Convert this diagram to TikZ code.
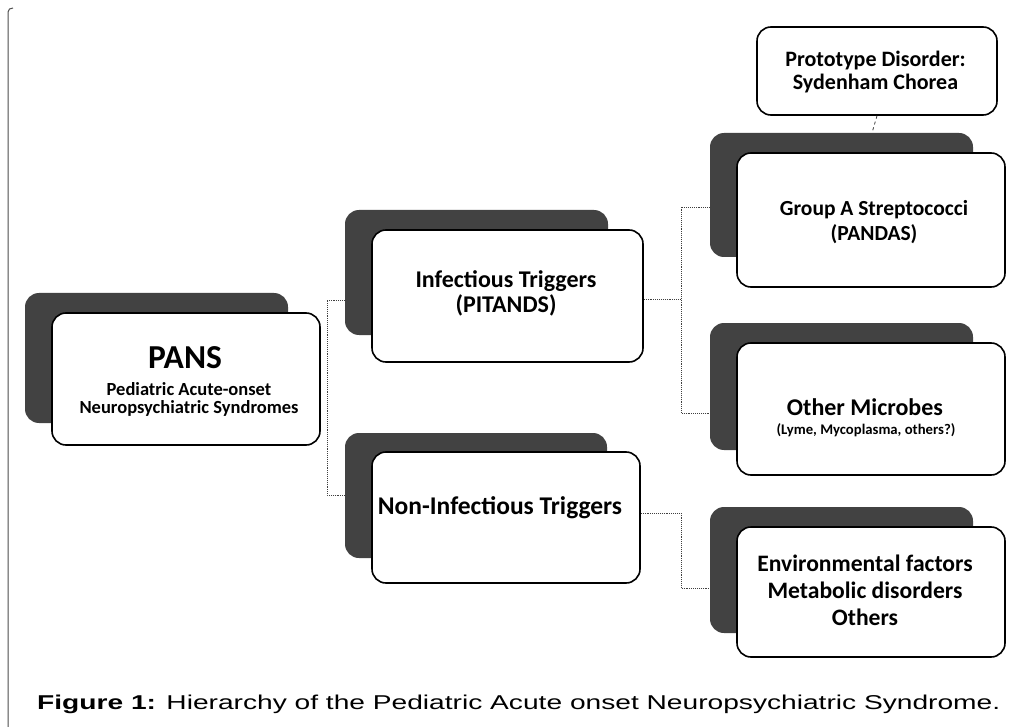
\documentclass[tikz,border=0pt]{standalone}
\usepackage{fontspec}
\setmainfont{Carlito}
\newfontfamily\capfont{Liberation Sans}
\definecolor{shadowc}{gray}{0.26}
\begin{document}
\begin{tikzpicture}[x=1pt,y=-1pt,
  shad/.style={fill=shadowc, rounded corners=14pt, inner sep=0pt},
  frontbox/.style={draw=black, line width=1.6pt, fill=white, rounded corners=14pt, inner sep=0pt},
  txt/.style={font=\bfseries\fontsize{21}{22}\selectfont, align=center, inner sep=0pt},
  conn/.style={densely dotted, line width=0.9pt, black!75}]
\useasboundingbox (0,0) rectangle (1017,727);
% frame line at the left
\draw[black!70, line width=1pt] (13,8) -- (9.5,9) -- (8,12) -- (8,727);
% PANS
\node[shad, minimum width=263pt, minimum height=130pt] (pansS) at (156.5,358) {};
\node[frontbox, minimum width=268pt, minimum height=132pt] (pans) at (186,379) {};
\node[txt, font=\bfseries\fontsize{33.5}{34}\selectfont] (pansT) at (185,358) {PANS};
\node[txt, font=\bfseries\fontsize{18.5}{18}\selectfont] (pansSub) at (189,399) {Pediatric Acute-onset\\Neuropsychiatric Syndromes};
% Infectious triggers
\node[shad, minimum width=263pt, minimum height=125pt] (infS) at (476.5,272.5) {};
\node[frontbox, minimum width=271pt, minimum height=132pt] (inf) at (507.5,296) {};
\node[txt, font=\bfseries\fontsize{24}{25}\selectfont] (infT) at (506,293) {Infectious Triggers\\(PITANDS)};
% Non-infectious triggers
\node[shad, minimum width=262pt, minimum height=125pt] (nonS) at (476,495.5) {};
\node[frontbox, minimum width=268pt, minimum height=131pt] (non) at (506,517.5) {};
\node[txt, font=\bfseries\fontsize{25.5}{26}\selectfont] (nonT) at (500,508) {Non-Infectious Triggers};
% Prototype
\node[frontbox, minimum width=240pt, minimum height=88pt] (proto) at (877,71) {};
\node[txt, font=\bfseries\fontsize{22}{22.5}\selectfont] (protoT) at (875.5,72) {Prototype Disorder:\\Sydenham Chorea};
% GAS
\node[shad, minimum width=263pt, minimum height=124pt] (gasS) at (841.5,195) {};
\node[frontbox, minimum width=268pt, minimum height=134pt] (gas) at (871,220) {};
\node[txt, font=\bfseries\fontsize{21.5}{25}\selectfont] (gasT) at (874,222) {Group A Streptococci\\(PANDAS)};
% Other microbes
\node[shad, minimum width=263pt, minimum height=127pt] (othS) at (841.5,386.5) {};
\node[frontbox, minimum width=268pt, minimum height=132pt] (oth) at (871,409) {};
\node[txt, font=\bfseries\fontsize{24}{24}\selectfont] (othT) at (865,407) {Other Microbes};
\node[txt, font=\bfseries\fontsize{14.7}{15}\selectfont] (othSub) at (866,430) {(Lyme, Mycoplasma, others?)};
% Environmental
\node[shad, minimum width=263pt, minimum height=126pt] (envS) at (841.5,570) {};
\node[frontbox, minimum width=268pt, minimum height=130pt] (env) at (871,592) {};
\node[txt, font=\bfseries\fontsize{23.6}{27}\selectfont] (envT) at (865,590) {Environmental factors\\Metabolic disorders\\Others};
% connectors
\coordinate (b1t) at (327,300);
\coordinate (b1b) at (327,495);
\draw[conn] (infS.west |- b1t) -- (b1t) -- (b1b) -- (nonS.west |- b1b);
\coordinate (b2) at (681,299);
\coordinate (b2t) at (681,207);
\coordinate (b2b) at (681,413);
\draw[conn] (inf.east |- b2) -- (b2);
\draw[conn] (gasS.west |- b2t) -- (b2t) -- (b2b) -- (othS.west |- b2b);
\coordinate (b3t) at (681,513);
\coordinate (b3b) at (681,588);
\draw[conn] (non.east |- b3t) -- (b3t) -- (b3b) -- (envS.west |- b3b);
\coordinate (gx) at (872,0);
\draw[conn, dashed, line width=0.8pt] (proto.south) -- (gasS.north -| gx);
% caption
\node[anchor=base west, inner sep=0pt] (cap) at (37,709) {\resizebox{963pt}{14.5pt}{\capfont\fontsize{18}{20}\selectfont\textbf{Figure 1:} Hierarchy of the Pediatric Acute onset Neuropsychiatric Syndrome.}};
\end{tikzpicture}
\end{document}
